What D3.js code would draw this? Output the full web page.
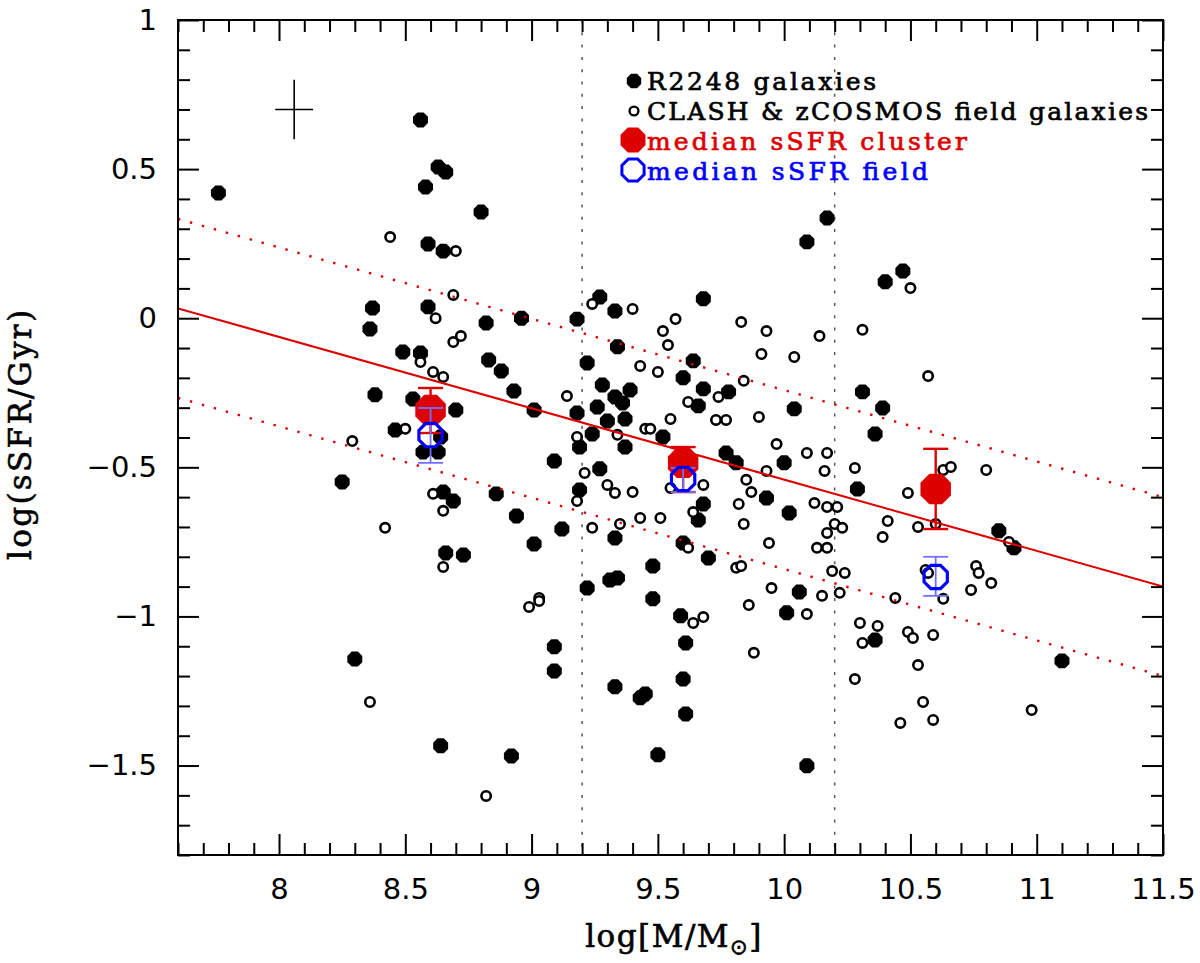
<!DOCTYPE html>
<html>
<head>
<meta charset="utf-8">
<script src="https://cdn.jsdelivr.net/npm/d3@7"></script>
<style>
  body { margin: 0; background: #fff; }
</style>
</head>
<body>
<div id="chart"></div>
<script>
// sSFR vs stellar mass: R2248 cluster members against CLASH / zCOSMOS field galaxies

const xTicks = [8, 8.5, 9, 9.5, 10, 10.5, 11, 11.5];
const yTicks = [1, 0.5, 0, -0.5, -1, -1.5];
const massBins = [9.2, 10.2];   // vertical dotted separators

// [log M, log sSFR]
const r2248 = [
  [7.76, 0.42], [8.56, 0.665], [8.63, 0.507], [8.66, 0.49], [8.58, 0.44], [8.80, 0.356],
  [8.59, 0.249], [8.65, 0.225], [8.37, 0.034], [8.59, 0.038], [8.82, -0.016], [8.96, 0.0],
  [9.18, -0.003], [9.27, 0.071], [8.36, -0.036], [8.49, -0.113], [8.56, -0.117], [8.38, -0.257],
  [8.53, -0.271], [8.70, -0.308], [8.46, -0.375], [8.57, -0.449], [8.63, -0.449], [8.64, -0.398],
  [8.25, -0.549], [8.65, -0.583], [8.69, -0.613], [8.86, -0.589], [8.94, -0.663], [9.09, -0.479],
  [9.12, -0.707], [9.01, -0.757], [8.66, -0.787], [8.73, -0.794], [8.83, -0.14], [8.88, -0.177],
  [8.93, -0.244], [9.01, -0.308], [9.22, -0.15], [9.19, -0.432], [9.19, -0.576], [9.22, -0.905],
  [9.18, -0.318], [9.24, -0.388], [8.30, -1.143], [8.64, -1.434], [8.92, -1.468], [9.09, -1.102],
  [9.09, -1.183], [9.33, 0.024], [9.68, 0.065], [9.34, -0.096], [9.64, -0.143], [9.28, -0.224],
  [9.39, -0.241], [9.33, -0.264], [9.36, -0.284], [9.60, -0.2], [9.68, -0.237], [9.78, -0.247],
  [9.66, -0.294], [9.26, -0.298], [9.30, -0.345], [9.37, -0.338], [9.37, -0.432], [9.52, -0.398],
  [10.04, -0.304], [10.31, -0.247], [10.39, -0.301], [10.36, -0.388], [9.77, -0.452], [9.81, -0.485],
  [10.00, -0.485], [9.27, -0.505], [9.68, -0.623], [9.93, -0.603], [10.02, -0.653], [10.29, -0.573],
  [9.66, -0.677], [9.33, -0.737], [9.60, -0.754], [9.70, -0.804], [9.48, -0.831], [9.31, -0.878],
  [9.34, -0.871], [10.06, -0.918], [9.48, -0.941], [9.59, -0.998], [9.61, -1.089], [9.33, -1.236],
  [9.45, -1.26], [9.43, -1.273], [9.60, -1.21], [9.61, -1.327], [9.50, -1.464], [10.01, -0.988],
  [10.09, -1.501], [10.36, -1.079], [10.17, 0.336], [10.09, 0.256], [10.47, 0.158], [10.40, 0.122],
  [10.85, -0.713], [10.91, -0.77], [11.10, -1.149]
];

const fieldGals = [
  [8.44, 0.272], [8.70, 0.225], [8.69, 0.078], [8.62, 0.0], [8.69, -0.08], [8.72, -0.06],
  [8.56, -0.147], [8.61, -0.18], [8.65, -0.197], [9.14, -0.261], [8.50, -0.371], [8.29, -0.412],
  [8.61, -0.589], [8.65, -0.646], [8.42, -0.703], [8.65, -0.834], [9.18, -0.398], [9.21, -0.519],
  [9.18, -0.613], [9.03, -0.938], [8.36, -1.287], [8.99, -0.968], [9.03, -0.948], [8.82, -1.602],
  [9.24, 0.048], [9.40, 0.031], [9.57, -0.003], [9.83, -0.013], [9.52, -0.043], [9.93, -0.043],
  [10.14, -0.06], [10.31, -0.039], [9.54, -0.09], [9.91, -0.12], [10.04, -0.13], [9.43, -0.16],
  [9.50, -0.18], [9.84, -0.21], [9.74, -0.264], [9.62, -0.281], [9.90, -0.331], [9.73, -0.341],
  [9.77, -0.341], [9.55, -0.338], [9.45, -0.371], [9.47, -0.371], [9.34, -0.391], [9.97, -0.422],
  [10.09, -0.452], [10.17, -0.452], [10.16, -0.512], [10.28, -0.502], [9.93, -0.512], [9.85, -0.542],
  [9.87, -0.583], [9.30, -0.559], [9.33, -0.586], [9.40, -0.583], [9.55, -0.569], [9.68, -0.559],
  [9.82, -0.623], [10.12, -0.62], [10.17, -0.633], [10.21, -0.633], [9.64, -0.65], [9.43, -0.67],
  [9.51, -0.67], [9.35, -0.69], [9.24, -0.703], [9.84, -0.69], [10.20, -0.69], [10.23, -0.703],
  [10.17, -0.72], [10.41, -0.68], [10.39, -0.734], [9.94, -0.754], [10.13, -0.77], [10.17, -0.77],
  [9.62, -0.77], [9.81, -0.837], [9.83, -0.831], [10.19, -0.848], [10.24, -0.854], [9.95, -0.905],
  [10.15, -0.931], [10.22, -0.921], [10.44, -0.938], [10.49, -0.586], [9.64, -1.022], [9.68, -1.002],
  [9.86, -0.962], [9.88, -1.122], [10.09, -0.992], [10.30, -1.022], [10.37, -1.032], [10.31, -1.089],
  [10.28, -1.21], [10.46, -1.357], [10.49, -1.052], [10.57, -0.194], [10.63, -0.509], [10.66, -0.499],
  [10.80, -0.509], [10.53, -0.70], [10.60, -0.69], [10.89, -0.75], [10.56, -0.844], [10.57, -0.854],
  [10.76, -0.831], [10.77, -0.854], [10.74, -0.911], [10.82, -0.888], [10.63, -0.941], [10.51, -1.072],
  [10.59, -1.062], [10.53, -1.163], [10.55, -1.287], [10.59, -1.347], [10.98, -1.314], [10.50, 0.101]
];

const medianMass = [8.6, 9.6, 10.6];
const clusterMedian = [-0.308, -0.485, -0.573];
const clusterLow = [-0.385, -0.583, -0.707];
const clusterHigh = [-0.234, -0.432, -0.438];
const fieldMedian = [-0.392, -0.539, -0.868];
const fieldLow = [-0.485, -0.583, -0.931];
const fieldHigh = [-0.301, -0.502, -0.80];

// main-sequence fit and its +/- scatter
const fitMass = [7.6, 11.5];
const fitSsfr = [0.033, -0.9];
const fitScatter = 0.3;

// typical error cross
const errCross = { mass: 8.06, ssfr: 0.7, dMass: 0.075, dSsfr: 0.1 };

const legendLabels = [
  "R2248 galaxies",
  "CLASH & zCOSMOS field galaxies",
  "median sSFR cluster",
  "median sSFR field"
];

const width = 1200, height = 963;
const margin = { top: 20, right: 37, bottom: 108, left: 178 };
const red = "#dd0000", blue = "#0000ff";

const x = d3.scaleLinear().domain([7.6, 11.5]).range([margin.left, width - margin.right]);
const y = d3.scaleLinear().domain([-1.8, 1]).range([height - margin.bottom, margin.top]);

function octagon(r) {
  const pts = d3.range(8).map(k => {
    const a = Math.PI / 8 + k * Math.PI / 4;
    return [r * Math.cos(a), r * Math.sin(a)];
  });
  return "M" + pts.join("L") + "Z";
}

const fmt = d => String(d).replace("-", "\u2212");

const svg = d3.select("#chart").append("svg")
  .attr("width", width)
  .attr("height", height);

svg.append("defs").append("clipPath")
  .attr("id", "plot-clip")
  .append("rect")
  .attr("x", x.range()[0]).attr("y", y.range()[1])
  .attr("width", x.range()[1] - x.range()[0])
  .attr("height", y.range()[0] - y.range()[1]);

const plot = svg.append("g").attr("clip-path", "url(#plot-clip)");

// vertical mass-bin separators
plot.selectAll(".bin-line")
  .data(massBins)
  .enter()
  .append("line")
  .attr("class", "bin-line")
  .attr("x1", d => x(d)).attr("x2", d => x(d))
  .attr("y1", y.range()[1]).attr("y2", y.range()[0])
  .attr("stroke", "#555")
  .attr("stroke-width", 1.5)
  .attr("stroke-dasharray", "3,9.3");

// cluster galaxies
plot.append("g")
  .selectAll("path")
  .data(r2248)
  .enter()
  .append("path")
  .attr("d", octagon(8.1))
  .attr("transform", d => `translate(${x(d[0])},${y(d[1])})`)
  .attr("fill", "black");

// field galaxies
plot.append("g")
  .selectAll("circle")
  .data(fieldGals)
  .enter()
  .append("circle")
  .attr("cx", d => x(d[0]))
  .attr("cy", d => y(d[1]))
  .attr("r", 4.7)
  .attr("fill", "white")
  .attr("stroke", "black")
  .attr("stroke-width", 2.6);

// fit and scatter lines
[0, fitScatter, -fitScatter].forEach(off => {
  plot.append("line")
    .attr("x1", x(fitMass[0])).attr("y1", y(fitSsfr[0] + off))
    .attr("x2", x(fitMass[1])).attr("y2", y(fitSsfr[1] + off))
    .attr("stroke", red)
    .attr("stroke-width", off === 0 ? 2 : 2.4)
    .attr("stroke-dasharray", off === 0 ? null : "2.4,10");
});

// error cross
const cross = svg.append("g").attr("stroke", "black").attr("stroke-width", 1.6);
cross.append("line")
  .attr("x1", x(errCross.mass - errCross.dMass)).attr("x2", x(errCross.mass + errCross.dMass))
  .attr("y1", y(errCross.ssfr)).attr("y2", y(errCross.ssfr));
cross.append("line")
  .attr("x1", x(errCross.mass)).attr("x2", x(errCross.mass))
  .attr("y1", y(errCross.ssfr - errCross.dSsfr)).attr("y2", y(errCross.ssfr + errCross.dSsfr));

// medians with error bars
function errorBars(lo, hi, color, w) {
  const g = svg.append("g").attr("stroke", color).attr("stroke-width", w);
  medianMass.forEach((m, i) => {
    g.append("line").attr("x1", x(m)).attr("x2", x(m)).attr("y1", y(lo[i])).attr("y2", y(hi[i]));
    [lo[i], hi[i]].forEach(v => {
      g.append("line").attr("x1", x(m) - 12.5).attr("x2", x(m) + 12.5).attr("y1", y(v)).attr("y2", y(v));
    });
  });
}

errorBars(clusterLow, clusterHigh, red, 2.4);
svg.append("g")
  .selectAll("path")
  .data(medianMass)
  .enter()
  .append("path")
  .attr("d", octagon(16.5))
  .attr("transform", (d, i) => `translate(${x(d)},${y(clusterMedian[i])})`)
  .attr("fill", red);

errorBars(fieldLow, fieldHigh, "#7070ff", 1.8);
svg.append("g")
  .selectAll("path")
  .data(medianMass)
  .enter()
  .append("path")
  .attr("d", octagon(12.6))
  .attr("transform", (d, i) => `translate(${x(d)},${y(fieldMedian[i])})`)
  .attr("fill", "none")
  .attr("stroke", blue)
  .attr("stroke-width", 3.2);

// axes, ticks inward on all four sides
const xMinor = d3.range(76, 116).filter(i => i % 5 !== 0).map(i => i / 10);
const yMinor = d3.range(-18, 11).filter(i => i % 5 !== 0).map(i => i / 10);
const bottomY = y.range()[0], topY = y.range()[1];
const leftX = x.range()[0], rightX = x.range()[1];

function styleAxis(g) {
  g.select(".domain").remove();
  g.selectAll(".tick line").attr("stroke", "black").attr("stroke-width", 2);
  g.selectAll(".tick text")
    .attr("fill", "black")
    .style("font-family", "'DejaVu Sans', sans-serif")
    .style("font-size", "29px");
}

svg.append("g").attr("transform", `translate(0,${bottomY})`)
  .call(d3.axisBottom(x).tickValues(xTicks).tickSize(-21).tickPadding(23).tickFormat(fmt))
  .call(styleAxis);
svg.append("g").attr("transform", `translate(0,${bottomY})`)
  .call(d3.axisBottom(x).tickValues(xMinor).tickSize(-12).tickFormat(""))
  .call(styleAxis);
svg.append("g").attr("transform", `translate(0,${topY})`)
  .call(d3.axisTop(x).tickValues(xTicks).tickSize(-21).tickFormat(""))
  .call(styleAxis);
svg.append("g").attr("transform", `translate(0,${topY})`)
  .call(d3.axisTop(x).tickValues(xMinor).tickSize(-12).tickFormat(""))
  .call(styleAxis);

svg.append("g").attr("transform", `translate(${leftX},0)`)
  .call(d3.axisLeft(y).tickValues(yTicks).tickSize(-21).tickPadding(21).tickFormat(fmt))
  .call(styleAxis);
svg.append("g").attr("transform", `translate(${leftX},0)`)
  .call(d3.axisLeft(y).tickValues(yMinor).tickSize(-12).tickFormat(""))
  .call(styleAxis);
svg.append("g").attr("transform", `translate(${rightX},0)`)
  .call(d3.axisRight(y).tickValues(yTicks).tickSize(-21).tickFormat(""))
  .call(styleAxis);
svg.append("g").attr("transform", `translate(${rightX},0)`)
  .call(d3.axisRight(y).tickValues(yMinor).tickSize(-12).tickFormat(""))
  .call(styleAxis);

svg.append("rect")
  .attr("x", leftX).attr("y", topY)
  .attr("width", rightX - leftX).attr("height", bottomY - topY)
  .attr("fill", "none")
  .attr("stroke", "black")
  .attr("stroke-width", 2);

// axis titles
const xTitle = svg.append("text")
  .attr("x", 674)
  .attr("y", 947)
  .attr("text-anchor", "middle")
  .attr("stroke", "black")
  .attr("stroke-width", 0.6)
  .style("font-family", "'DejaVu Serif', serif")
  .style("font-size", "31px")
  .style("letter-spacing", "1.5px");
xTitle.append("tspan").text("log[M/M");
xTitle.append("tspan").attr("dy", 7).style("font-size", "21px").style("font-family", "'DejaVu Sans', sans-serif").text("\u2299");
xTitle.append("tspan").attr("dy", -7).text("]");

svg.append("text")
  .attr("transform", "translate(31,435) rotate(-90)")
  .attr("text-anchor", "middle")
  .attr("textLength", 250)
  .attr("lengthAdjust", "spacing")
  .attr("stroke", "black")
  .attr("stroke-width", 0.6)
  .style("font-family", "'DejaVu Serif', serif")
  .style("font-size", "31px")
  .text("log(sSFR/Gyr)");

// legend
const legendX = 634, textX = 647;
const legendRows = [90, 120, 150, 180];
const legendWidths = [229, 501, 320, 281];
const legendColors = ["black", "black", red, blue];

svg.append("path").attr("d", octagon(7.8)).attr("transform", `translate(${legendX},${legendRows[0] - 9})`).attr("fill", "black");
svg.append("circle").attr("cx", legendX).attr("cy", legendRows[1] - 9).attr("r", 4.4)
  .attr("fill", "white").attr("stroke", "black").attr("stroke-width", 2.4);
svg.append("path").attr("d", octagon(13.5)).attr("transform", `translate(${legendX - 1},${legendRows[2] - 10})`).attr("fill", red);
svg.append("path").attr("d", octagon(12)).attr("transform", `translate(${legendX - 1},${legendRows[3] - 10})`)
  .attr("fill", "none").attr("stroke", blue).attr("stroke-width", 3);

svg.selectAll(".legend-label")
  .data(legendLabels)
  .enter()
  .append("text")
  .attr("class", "legend-label")
  .attr("x", textX)
  .attr("y", (_, i) => legendRows[i])
  .attr("textLength", (_, i) => legendWidths[i])
  .attr("lengthAdjust", "spacing")
  .attr("fill", (_, i) => legendColors[i])
  .attr("stroke", (_, i) => legendColors[i])
  .attr("stroke-width", 0.7)
  .style("font-family", "'DejaVu Serif', serif")
  .style("font-size", "25px")
  .text(d => d);
</script>
</body>
</html>
